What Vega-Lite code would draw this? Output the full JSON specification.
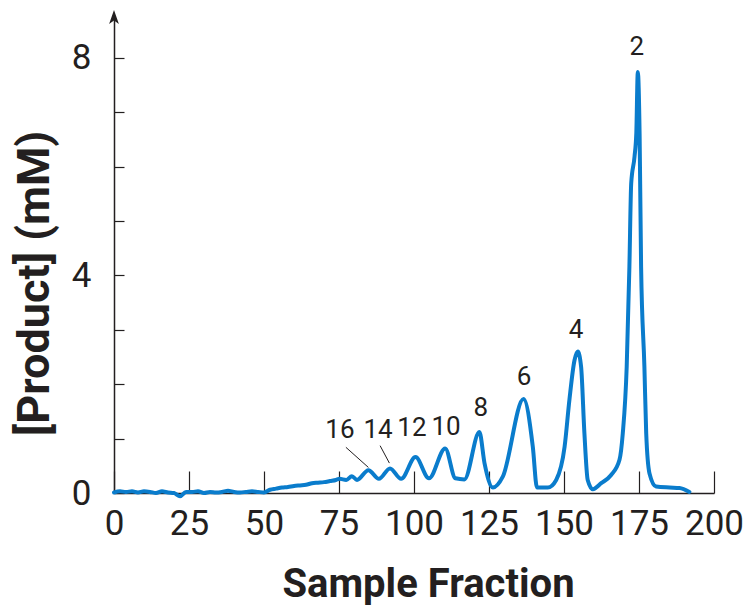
{
  "$schema": "https://vega.github.io/schema/vega-lite/v6.json",
  "width": 600,
  "height": 476,
  "autosize": "none",
  "padding": {"left": 114, "top": 17, "right": 31, "bottom": 114},
  "background": "white",
  "config": {
    "view": {"stroke": null},
    "axis": {
      "domainColor": "#231f20",
      "tickColor": "#231f20",
      "labelColor": "#231f20",
      "titleColor": "#231f20",
      "domainWidth": 1.5,
      "tickWidth": 1.2,
      "grid": false,
      "labelFont": "Roboto",
      "labelFontSize": 35,
      "titleFont": "Roboto",
      "titleFontWeight": "bold"
    }
  },
  "datasets": {
    "curve": [
      {"fraction": 0, "product": 0.01}, {"fraction": 2, "product": 0.03}, {"fraction": 4, "product": 0.02},
      {"fraction": 6, "product": 0.03}, {"fraction": 8, "product": 0.01}, {"fraction": 10, "product": 0.03},
      {"fraction": 12, "product": 0.02}, {"fraction": 14, "product": 0.0}, {"fraction": 16, "product": 0.03},
      {"fraction": 18, "product": 0.01}, {"fraction": 20, "product": 0.0}, {"fraction": 22, "product": -0.06},
      {"fraction": 24, "product": 0.02}, {"fraction": 26, "product": 0.02}, {"fraction": 28, "product": 0.03},
      {"fraction": 30, "product": 0.0}, {"fraction": 32, "product": 0.02}, {"fraction": 34, "product": 0.01},
      {"fraction": 36, "product": 0.02}, {"fraction": 38, "product": 0.04}, {"fraction": 40, "product": 0.02},
      {"fraction": 42, "product": 0.01}, {"fraction": 44, "product": 0.02}, {"fraction": 46, "product": 0.03},
      {"fraction": 48, "product": 0.02}, {"fraction": 50, "product": 0.01}, {"fraction": 52, "product": 0.06},
      {"fraction": 54, "product": 0.08}, {"fraction": 56, "product": 0.1}, {"fraction": 58, "product": 0.11},
      {"fraction": 60, "product": 0.13}, {"fraction": 62, "product": 0.14}, {"fraction": 64, "product": 0.15},
      {"fraction": 66, "product": 0.18}, {"fraction": 68, "product": 0.19}, {"fraction": 70, "product": 0.2},
      {"fraction": 72, "product": 0.22}, {"fraction": 74, "product": 0.24}, {"fraction": 75.2, "product": 0.26},
      {"fraction": 77.4, "product": 0.24}, {"fraction": 79.3, "product": 0.31}, {"fraction": 81, "product": 0.24},
      {"fraction": 84.8, "product": 0.42}, {"fraction": 88.3, "product": 0.26}, {"fraction": 92, "product": 0.45},
      {"fraction": 95.7, "product": 0.26}, {"fraction": 100.5, "product": 0.66}, {"fraction": 105, "product": 0.27},
      {"fraction": 110.4, "product": 0.82}, {"fraction": 113.8, "product": 0.27}, {"fraction": 116.8, "product": 0.25},
      {"fraction": 121.8, "product": 1.12}, {"fraction": 123.5, "product": 0.55}, {"fraction": 126.3, "product": 0.1},
      {"fraction": 129.6, "product": 0.3}, {"fraction": 136.5, "product": 1.73}, {"fraction": 139.6, "product": 0.85},
      {"fraction": 141, "product": 0.1}, {"fraction": 144.6, "product": 0.1}, {"fraction": 147.4, "product": 0.24},
      {"fraction": 150.2, "product": 0.85}, {"fraction": 151.8, "product": 1.71}, {"fraction": 153.5, "product": 2.44},
      {"fraction": 154.6, "product": 2.6}, {"fraction": 155.7, "product": 2.32}, {"fraction": 156.8, "product": 1.1},
      {"fraction": 157.9, "product": 0.24}, {"fraction": 159.6, "product": 0.07}, {"fraction": 162.4, "product": 0.18},
      {"fraction": 165.7, "product": 0.33}, {"fraction": 168.5, "product": 0.61}, {"fraction": 169.6, "product": 1.1},
      {"fraction": 170.9, "product": 2.32}, {"fraction": 171.8, "product": 4.16}, {"fraction": 172.4, "product": 5.69},
      {"fraction": 173.5, "product": 6.18}, {"fraction": 174.1, "product": 6.61}, {"fraction": 174.6, "product": 7.74},
      {"fraction": 175.2, "product": 6.61}, {"fraction": 175.7, "product": 4.16}, {"fraction": 176.8, "product": 2.32},
      {"fraction": 177.4, "product": 1.1}, {"fraction": 178.5, "product": 0.36}, {"fraction": 180.7, "product": 0.12},
      {"fraction": 185.2, "product": 0.1}, {"fraction": 188.5, "product": 0.09}, {"fraction": 191.8, "product": 0.02}
    ],
    "labels": [
      {"fraction": 174.3, "product": 8.2, "text": "2"},
      {"fraction": 154, "product": 3.0, "text": "4"},
      {"fraction": 136.7, "product": 2.13, "text": "6"},
      {"fraction": 122.3, "product": 1.56, "text": "8"},
      {"fraction": 110.7, "product": 1.21, "text": "10"},
      {"fraction": 99.3, "product": 1.19, "text": "12"},
      {"fraction": 88, "product": 1.16, "text": "14"},
      {"fraction": 75.3, "product": 1.16, "text": "16"}
    ],
    "leaders": [
      {"fraction": 77.3, "product": 0.84, "fraction2": 84.8, "product2": 0.47},
      {"fraction": 88.7, "product": 0.87, "fraction2": 91.8, "product2": 0.55}
    ],
    "arrow": [{"fraction": 0, "product": 8.75}]
  },
  "layer": [
    {
      "data": {"name": "curve"},
      "mark": {"type": "line", "color": "#0a7ccc", "strokeWidth": 4, "interpolate": "monotone", "strokeJoin": "round", "strokeCap": "round"},
      "encoding": {
        "x": {
          "field": "fraction", "type": "quantitative",
          "scale": {"domain": [0, 200], "nice": false, "zero": false},
          "axis": {
            "values": [0, 25, 50, 75, 100, 125, 150, 175, 200],
            "tickSize": -22,
            "labelPadding": 35,
            "title": "Sample Fraction",
            "titleFontSize": 40,
            "titleX": 314,
            "titleY": 103,
            "titleBaseline": "alphabetic",
            "labelFlush": false
          }
        },
        "y": {
          "field": "product", "type": "quantitative",
          "scale": {"domain": [0, 8.75], "nice": false, "zero": false},
          "axis": {
            "values": [0, 1, 2, 3, 4, 5, 6, 7, 8],
            "labelExpr": "datum.value % 4 === 0 ? datum.label : ''",
            "tickSize": -10,
            "labelPadding": 33,
            "title": "[Product] (mM)",
            "titleFontSize": 45,
            "titleX": -80,
            "titleY": 266,
            "titleAngle": -90,
            "titleAlign": "center",
            "titleBaseline": "middle",
            "labelFlush": false
          }
        }
      }
    },
    {
      "data": {"name": "leaders"},
      "mark": {"type": "rule", "color": "#231f20", "strokeWidth": 1},
      "encoding": {
        "x": {"field": "fraction", "type": "quantitative"},
        "y": {"field": "product", "type": "quantitative"},
        "x2": {"field": "fraction2"},
        "y2": {"field": "product2"}
      }
    },
    {
      "data": {"name": "labels"},
      "mark": {"type": "text", "font": "Roboto", "fontSize": 26, "color": "#231f20", "baseline": "middle", "align": "center"},
      "encoding": {
        "x": {"field": "fraction", "type": "quantitative"},
        "y": {"field": "product", "type": "quantitative"},
        "text": {"field": "text"}
      }
    },
    {
      "data": {"name": "arrow"},
      "mark": {"type": "point", "shape": "M0,-1 L0.7,1 L0,0.5 L-0.7,1 Z", "filled": true, "color": "#231f20", "size": 196, "opacity": 1},
      "encoding": {
        "x": {"field": "fraction", "type": "quantitative"},
        "y": {"field": "product", "type": "quantitative"}
      }
    }
  ]
}
